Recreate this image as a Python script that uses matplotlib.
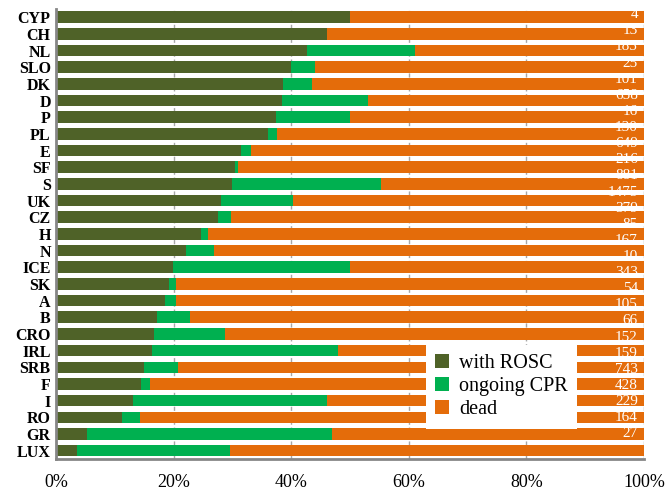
import matplotlib
matplotlib.use("Agg")
import matplotlib.pyplot as plt
import numpy as np

countries = ["CYP", "CH", "NL", "SLO", "DK", "D", "P", "PL", "E", "SF", "S", "UK", "CZ", "H",
             "N", "ICE", "SK", "A", "B", "CRO", "IRL", "SRB", "F", "I", "RO", "GR", "LUX"]
with_rosc = [50.0, 46.1, 42.7, 40.0, 38.6, 38.4, 37.4, 36.1, 31.4, 30.4, 29.9, 28.0, 27.6, 24.6,
             22.0, 19.8, 19.2, 18.5, 17.1, 16.6, 16.3, 15.0, 14.4, 13.0, 11.2, 5.3, 3.5]
ongoing_cpr = [0.0, 0.0, 18.4, 4.0, 5.0, 14.6, 12.6, 1.5, 1.8, 0.5, 25.3, 12.3, 2.1, 1.2,
               4.9, 30.2, 1.1, 1.8, 5.7, 12.1, 31.7, 5.7, 1.6, 33.0, 3.1, 41.7, 26.0]
dead = [50.0, 53.9, 38.9, 56.0, 56.4, 47.0, 50.0, 62.4, 66.8, 69.1, 44.8, 59.7, 70.3, 74.2,
        73.1, 50.0, 79.7, 79.7, 77.2, 71.3, 52.0, 79.3, 84.0, 54.0, 85.7, 53.0, 70.5]
n_cases = ["4", "13", "185", "25", "101", "658", "16", "130", "649", "216", "881", "1475", "379", "85",
           "167", "10", "343", "54", "105", "66", "152", "159", "743", "428", "229", "164", "27"]
xticks = [0, 20, 40, 60, 80, 100]
xticklabels = ["0%", "20%", "40%", "60%", "80%", "100%"]

C_ROSC = "#4F6228"
C_CPR = "#00B050"
C_DEAD = "#E46C0A"
SERIF = ["Liberation Serif", "DejaVu Serif"]

fig = plt.figure(figsize=(6.7, 4.94), dpi=100)
ax = fig.add_axes([0.084, 0.071, 0.877, 0.911])

y = np.arange(len(countries))
rosc = np.array(with_rosc)
cpr = np.array(ongoing_cpr)
dd = np.array(dead)
h = 0.69
ax.barh(y, rosc, height=h, color=C_ROSC, label="with ROSC", zorder=3)
ax.barh(y, cpr, left=rosc, height=h, color=C_CPR, label="ongoing CPR", zorder=3)
ax.barh(y, dd, left=rosc + cpr, height=h, color=C_DEAD, label="dead", zorder=3)

ax.set_xlim(0, 100)
ax.set_ylim(len(countries) - 0.5, -0.5)
ax.set_yticks(y)
ax.set_yticklabels(countries, fontfamily=SERIF, fontweight="bold", fontsize=11.5)
ax.set_xticks(xticks)
ax.set_xticklabels(xticklabels, fontfamily=SERIF, fontsize=13)
ax.tick_params(axis="both", length=0)
ax.tick_params(axis="x", pad=11)
ax.tick_params(axis="y", pad=4)

ax.xaxis.grid(True, color="#A6A6A6", linestyle=(0, (3, 2)), linewidth=1.0, zorder=0)
ax.set_axisbelow(True)
for s in ["top", "right"]:
    ax.spines[s].set_visible(False)
ax.spines["left"].set_color("#868686")
ax.spines["left"].set_linewidth(2)
ax.spines["bottom"].set_color("#868686")
ax.spines["bottom"].set_linewidth(2)
ax.spines["left"].set_zorder(5)
ax.spines["bottom"].set_zorder(5)

# case-count labels (slightly compressed spacing, as in the original)
for i, lab in enumerate(n_cases):
    ly = -0.15 + i * 0.967
    ax.text(99.0, ly, lab, ha="right", va="center", color="white",
            fontfamily=SERIF, fontsize=11, zorder=6)

leg = ax.legend(loc="upper left", bbox_to_anchor=(0.629, 0.253), borderaxespad=0,
                frameon=True, fancybox=False, framealpha=1, edgecolor="white",
                prop={"family": SERIF, "size": 14.5}, handlelength=0.7, handleheight=0.7,
                handletextpad=0.5, labelspacing=0.2, borderpad=0.45)
leg.get_frame().set_linewidth(0)
leg.set_zorder(10)

fig.savefig("out.png", dpi=100)
